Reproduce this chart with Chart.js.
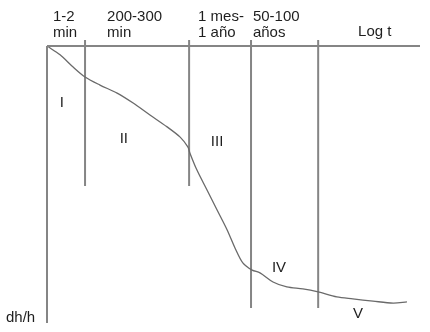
<!DOCTYPE html>
<html>
<head>
<meta charset="utf-8">
<script src="https://cdn.jsdelivr.net/npm/chart.js@4/dist/chart.umd.min.js"></script>
<style>
  html, body { margin: 0; padding: 0; background: #fff; }
  #c { display: block; }
</style>
</head>
<body>
<canvas id="c" width="430" height="332"></canvas>
<script>
// consolidation curve: x = log t (arbitrary units 0-10), y = dh/h (0 top, 10 bottom)
const curveX = [0, 0.35, 0.70, 1.02, 1.42, 1.88, 2.31, 2.76, 3.22, 3.57, 3.78, 3.83, 4.02, 4.29,
  4.56, 4.83, 5.04, 5.25, 5.50, 5.71, 6.06, 6.43, 6.86, 7.27, 7.77, 8.20, 8.74, 9.28, 9.65];
const curveY = [0, 0.32, 0.76, 1.12, 1.41, 1.70, 2.06, 2.49, 2.92, 3.29, 3.65, 3.86, 4.48, 5.20,
  5.92, 6.64, 7.29, 7.83, 8.09, 8.19, 8.52, 8.70, 8.77, 8.88, 9.06, 9.13, 9.21, 9.28, 9.24];

// phase boundaries
const dividerX = [1.02, 3.81, 5.47, 7.27];
const dividerBottom = [5.05, 5.05, 9.46, 9.46];
const dividerTop = -0.22;

// time range headings (two lines each)
const headLine1 = ['1-2', '200-300', '1 mes-', '50-100'];
const headLine2 = ['min', 'min', '1 año', 'años'];
const headX = [0.16, 1.61, 4.05, 5.52];

// phase numerals
const phaseNames = ['I', 'II', 'III', 'IV', 'V'];
const phaseX = [0.40, 2.06, 4.56, 6.22, 8.34];
const phaseY = [2.06, 3.36, 3.47, 8.01, 9.68];

const FONT = '15px "Liberation Sans", Arial, sans-serif';
const TEXT = '#1e1e1e';
const GRAY = '#858585';

const pts = (xs, ys) => xs.map((x, i) => ({ x, y: ys[i] }));

const datasets = [
  // axes
  { data: [{ x: 0, y: 0 }, { x: 10, y: 0 }], borderColor: GRAY, borderWidth: 2 },
  { data: [{ x: 0, y: 0 }, { x: 0, y: 10 }], borderColor: GRAY, borderWidth: 2 },
  // curve
  { data: pts(curveX, curveY), borderColor: '#6a6a6a', borderWidth: 1.3, tension: 0.3 },
];
dividerX.forEach((x, i) => {
  datasets.push({
    data: [{ x, y: dividerTop }, { x, y: dividerBottom[i] }],
    borderColor: GRAY, borderWidth: 2,
  });
});
datasets.forEach(d => {
  d.showLine = true;
  d.pointRadius = 0;
  d.clip = false;
  d.fill = false;
});

// ── Text labels ────────────────────────────────────────────
const labelsPlugin = {
  id: 'labels',
  afterDatasetsDraw(chart) {
    const { ctx, scales: { x, y } } = chart;
    ctx.save();
    ctx.font = FONT;
    ctx.fillStyle = TEXT;
    ctx.textBaseline = 'alphabetic';
    ctx.textAlign = 'left';
    headX.forEach((hx, i) => {
      ctx.fillText(headLine1[i], x.getPixelForValue(hx), y.getPixelForValue(-0.90));
      ctx.fillText(headLine2[i], x.getPixelForValue(hx), y.getPixelForValue(-0.32));
    });
    ctx.fillText('Log t', x.getPixelForValue(8.34), y.getPixelForValue(-0.36));
    ctx.fillText('dh/h', x.getPixelForValue(-1.10), y.getPixelForValue(9.96));

    ctx.textAlign = 'center';
    ctx.textBaseline = 'middle';
    phaseNames.forEach((n, i) => {
      ctx.fillText(n, x.getPixelForValue(phaseX[i]), y.getPixelForValue(phaseY[i]));
    });
    ctx.restore();
  }
};

new Chart(document.getElementById('c'), {
  type: 'scatter',
  data: { datasets },
  options: {
    responsive: false,
    animation: false,
    layout: { padding: { left: 47, right: 10, top: 46, bottom: 9 } },
    plugins: { legend: { display: false }, tooltip: { enabled: false } },
    scales: {
      x: { type: 'linear', min: 0, max: 10, display: false },
      y: { type: 'linear', min: 0, max: 10, reverse: true, display: false },
    },
  },
  plugins: [labelsPlugin],
});
</script>
</body>
</html>
